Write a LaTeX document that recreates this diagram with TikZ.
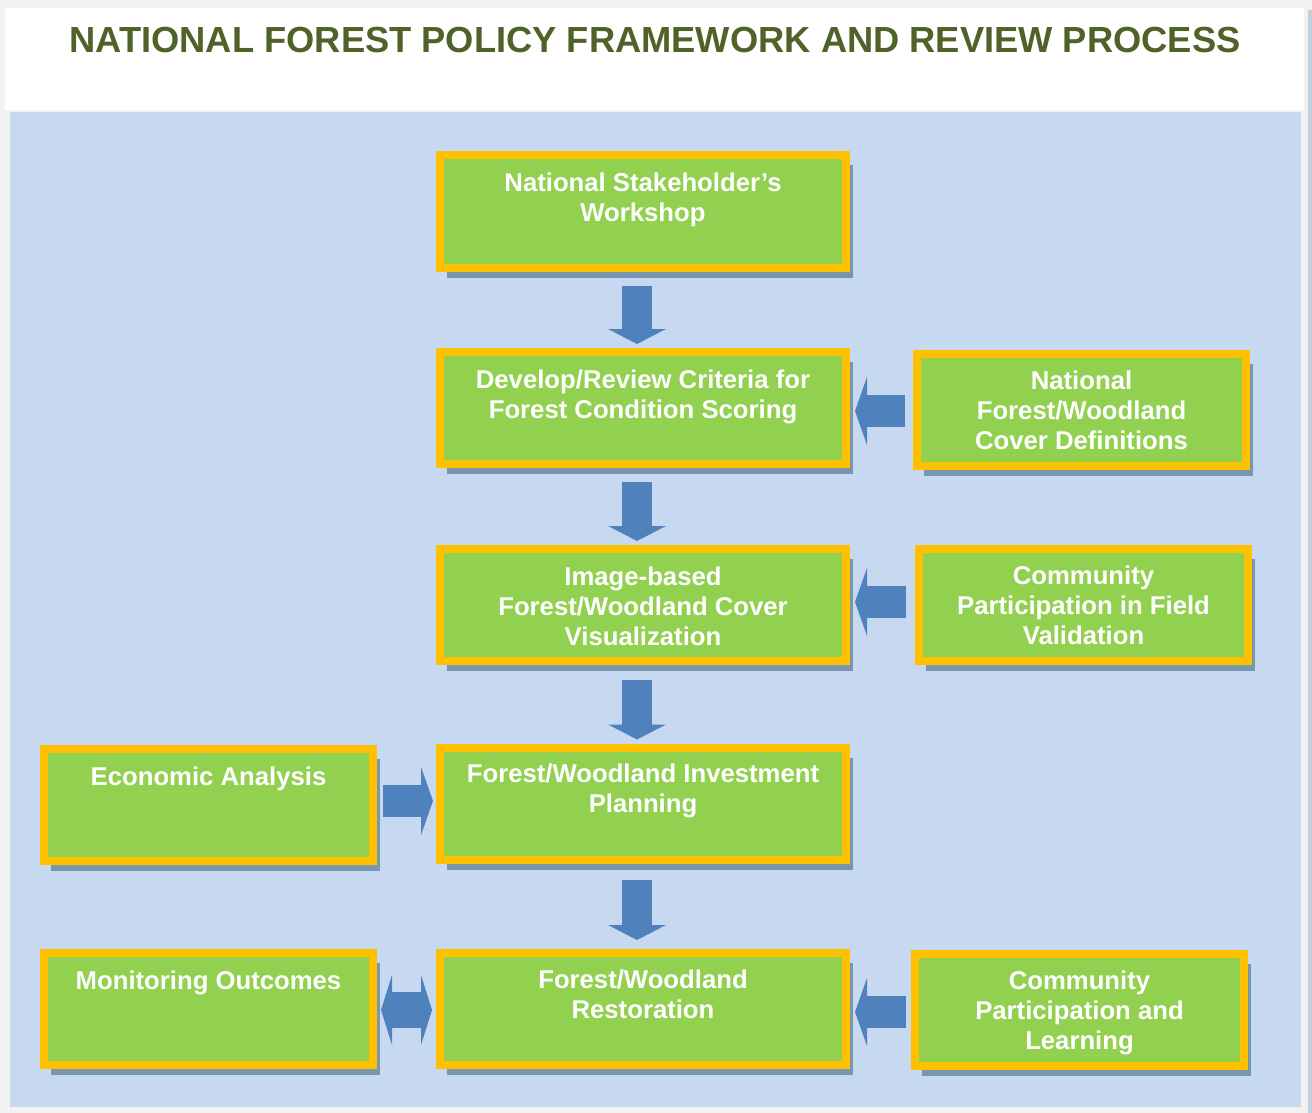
\documentclass[tikz,border=0pt]{standalone}
\usepackage{fontspec}
\setmainfont{Liberation Sans}
\usetikzlibrary{positioning,shadows,arrows.meta,calc}
\definecolor{fundo}{HTML}{C6D9F1}
\definecolor{cinza}{HTML}{F2F2F2}
\definecolor{verde}{HTML}{92D050}
\definecolor{amarelo}{HTML}{FFC000}
\definecolor{azul}{HTML}{4F81BD}
\definecolor{oliva}{HTML}{4F6228}
\definecolor{sombra}{HTML}{7896AF}

\begin{document}
\begin{tikzpicture}[x=0.5pt, y=-0.5pt,
  caixa/.style = {draw=amarelo, line width=4pt, fill=verde, minimum height=56pt, inner sep=0pt,
    drop shadow={shadow xshift=3.5pt, shadow yshift=-5pt, fill=sombra, opacity=1}},
  centro/.style = {caixa, minimum width=203pt},
  lado/.style = {caixa, minimum width=164.5pt},
  texto/.style = {text=white, font=\fontsize{12.85pt}{15pt}\selectfont\bfseries, align=center, inner sep=0pt, outer sep=0pt},
  setav/.style = {draw=azul, line width=15pt, -{Triangle[length=7.5pt, width=29pt, line width=0pt]}},
  setah/.style = {draw=azul, line width=16pt, -{Triangle[length=6pt, width=34pt, line width=0pt]}},
  setad/.style = {draw=azul, line width=18pt, {Triangle[length=5.5pt, width=35pt, line width=0pt]}-{Triangle[length=5.5pt, width=35pt, line width=0pt]}},
]
	% fundo
	\useasboundingbox (0,0) rectangle (1312,1113);
	\fill[cinza] (0,0) rectangle (1312,1113);
	\fill[white] (5,8) rectangle (1304,110);
	\fill[fundo] (10,112) rectangle (1301,1107);
	\fill[sombra!45] (1308,10) rectangle (1312,1113);

	\node[text=oliva, font=\fontsize{18.15pt}{20pt}\selectfont\bfseries, inner sep=0pt] (T) at (655,40.5)
		{NATIONAL FOREST POLICY FRAMEWORK AND REVIEW PROCESS};

	% coluna central
	\node[centro] (A) at (643,211.5) {};
	\node[centro] (B) at (643,408) {};
	\node[centro] (C) at (643,605) {};
	\node[centro] (D) at (643,803.5) {};
	\node[centro] (E) at (643,1009) {};
	% laterais
	\node[lado] (F) at (1081.5,409.5) {};
	\node[lado] (G) at (1083.5,605) {};
	\node[lado] (H) at (1079.5,1010) {};
	\node[lado] (I) at (208.5,804.5) {};
	\node[lado] (J) at (208.5,1008.5) {};

	\node[texto, below=10.75pt of A.north] (tA) {National Stakeholder’s\\Workshop};
	\node[texto, below=10.75pt of B.north] (tB) {Develop/Review Criteria for\\Forest Condition Scoring};
	\node[texto, below=10.75pt of C.north] (tC) {Image-based\\Forest/Woodland Cover\\Visualization};
	\node[texto, below=10.25pt of D.north] (tD) {Forest/Woodland Investment\\Planning};
	\node[texto, below=10.5pt of E.north] (tE) {Forest/Woodland\\Restoration};
	\node[texto, below=10.75pt of F.north] (tF) {National\\Forest/Woodland\\Cover Definitions};
	\node[texto, below=10.25pt of G.north] (tG) {Community\\Participation in Field\\Validation};
	\node[texto, below=10.25pt of H.north] (tH) {Community\\Participation and\\Learning};
	\node[texto, below=11.25pt of I.north] (tI) {Economic Analysis};
	\node[texto, below=11.25pt of J.north] (tJ) {Monitoring Outcomes};

	% setas
	\draw[setav] ([xshift=-3pt,yshift=-7pt]A.south) -- ([xshift=-3pt,yshift=2pt]B.north);
	\draw[setav] ([xshift=-3pt,yshift=-7pt]B.south) -- ([xshift=-3pt,yshift=2pt]C.north);
	\draw[setav] ([xshift=-3pt,yshift=-7.5pt]C.south) -- ([xshift=-3pt,yshift=2pt]D.north);
	\draw[setav] ([xshift=-3pt,yshift=-8pt]D.south) -- ([xshift=-3pt,yshift=4.5pt]E.north);
	\draw[setah] ([xshift=-4pt,yshift=-0.75pt]F.west) -- ($(B.east |- F.west)+(2.5pt,-0.75pt)$);
	\draw[setah] ([xshift=-4.5pt,yshift=1.5pt]G.west) -- ($(C.east |- G.west)+(2.5pt,1.5pt)$);
	\draw[setah] ([xshift=-2.5pt,yshift=-1pt]H.west) -- ($(E.east |- H.west)+(2.5pt,-1pt)$);
	\draw[setah] ([xshift=3pt,yshift=1.75pt]I.east) -- ($(D.west |- I.east)+(-1.5pt,1.75pt)$);
	\draw[setad] ([xshift=2pt,yshift=-0.75pt]J.east) -- ($(E.west |- J.east)+(-2pt,-0.75pt)$);
\end{tikzpicture}
\end{document}
